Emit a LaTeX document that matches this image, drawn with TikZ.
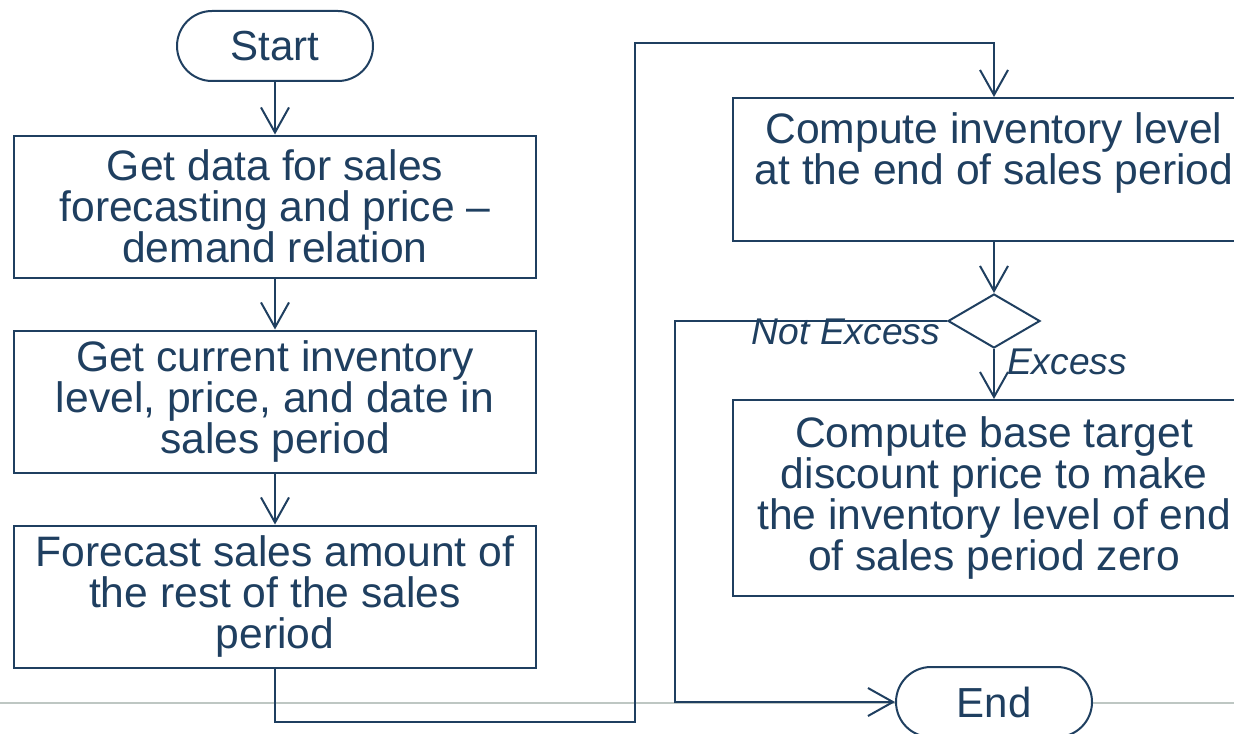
\documentclass[tikz,border=0pt]{standalone}
\usepackage{fontspec}
\setmainfont{Liberation Sans}
\usetikzlibrary{positioning, arrows.meta, shapes.geometric}
\definecolor{navy}{RGB}{31,63,96}
\definecolor{rulegrey}{RGB}{190,199,195}

\begin{document}
\begin{tikzpicture}
    [
        x=0.5pt, y=-0.5pt, node distance=97.5pt, on grid,
        step_box/.style={rectangle, draw=navy, line width=1pt, fill=white, text=navy, align=center, inner sep=0pt, minimum width=261pt, minimum height=71pt, font=\fontsize{21.3pt}{20.5pt}\selectfont},
        end_node/.style={rectangle, rounded corners=17.5pt, draw=navy, line width=1pt, fill=white, text=navy, inner sep=0pt, minimum width=98pt, minimum height=35pt, font=\fontsize{21pt}{20.5pt}\selectfont},
        test_node/.style={diamond, draw=navy, line width=1pt, fill=white, inner sep=0pt, minimum width=46pt, minimum height=27pt},
        flow/.style={-{Straight Barb[length=12.5pt, width=14pt]}, line width=1pt, color=navy},
        branch/.style={text=navy, inner sep=3pt, font=\fontsize{18.6pt}{20pt}\selectfont\itshape},
    ]
        \useasboundingbox (0,0) rectangle (1234,733);
        \clip (0,0) rectangle (1234,733);
        \draw[rulegrey, line width=1.2pt] (0,703) -- (1234,703);

        % left column
        \node[step_box] (data) at (275,206.5) {Get data for sales\\forecasting and price –\\demand relation};
        \node[end_node] (start) [above = 80.25pt of data] {Start};
        \node[step_box] (state) [below = of data] {Get current inventory\\level, price, and date in\\sales period};
        \node[step_box] (forecast) [below = of state] {Forecast sales amount of\\the rest of the sales\\period};

        % right column
        \node[step_box, minimum height=71.5pt] (level) at (994,169.5) {Compute inventory level\\at the end of sales period\\\mbox{}};
        \node[test_node] (excess) [below = 75.75pt of level] {};
        \node[step_box, minimum height=98pt] (target) [below = 88.5pt of excess] {Compute base target\\discount price to make\\the inventory level of end\\of sales period zero};
        \node[end_node] (end) [below = 102pt of target] {End};

        \coordinate (drop) at (635,722);
        \coordinate (rise) at (635,43);
        \coordinate (side) at (675,702);

        \draw[flow] (start) -- (data);
        \draw[flow] (data) -- (state);
        \draw[flow] (state) -- (forecast);
        \draw[flow] (forecast) |- (drop) -- (rise) -| (level);
        \draw[flow] (level) -- (excess);
        \draw[flow] (excess) -- node[branch, pos=0.25, anchor=west, xshift=3pt] {Excess} (target);
        \draw[flow] (excess.west) node[branch, anchor=east, yshift=-5.5pt] {Not Excess} -| (side) -- (end);
    \end{tikzpicture}
\end{document}
